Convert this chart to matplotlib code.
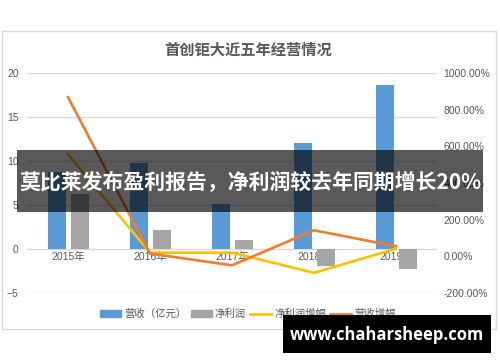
import matplotlib
matplotlib.use("Agg")
import matplotlib.pyplot as plt
from matplotlib.patches import Rectangle
from matplotlib.lines import Line2D
from matplotlib.patches import Patch
import numpy as np

plt.rcParams['font.family'] = ['Liberation Sans', 'Noto Sans CJK SC', 'DejaVu Sans']

years = ["2015年", "2016年", "2017年", "2018年", "2019年"]
revenue = [8.8, 9.8, 5.1, 12.1, 18.6]          # 营收（亿元）
net_profit = [6.3, 2.2, 1.0, -1.9, -2.3]       # 净利润
profit_growth = [557, 20, 20, -90, 42]         # 净利润增幅 (%)
revenue_growth = [868, 15, -49, 142, 55]       # 营收增幅 (%)
left_ticks = [-5, 0, 5, 10, 15, 20]
right_ticks = [-200, 0, 200, 400, 600, 800, 1000]

BLUE = "#5B9BD5"
GRAY = "#A5A5A5"
YELLOW = "#FFC000"
ORANGE = "#ED7D31"
TXT = "#595959"

fig = plt.figure(figsize=(5.0, 3.62), dpi=100)

# chart frame
fig.patches.append(Rectangle((2 / 500, 1 - 329 / 362), 494 / 500, 298 / 362,
                             transform=fig.transFigure, facecolor="none",
                             edgecolor="#d9d9d9", lw=1.0, zorder=-1))

ax = fig.add_axes([27 / 500, 1 - 293 / 362, 410 / 500, 220 / 362])
ax.set_facecolor("none")
x = np.arange(len(years))
w = 0.22
ax.bar(x - 0.135, revenue, w, color=BLUE, zorder=2)
ax.bar(x + 0.145, net_profit, w, color=GRAY, zorder=2)
ax.set_xlim(-0.5, 4.5)
ax.set_ylim(-5, 20)
ax.set_yticks(left_ticks)
ax.yaxis.grid(True, color="#d9d9d9", lw=1.0, zorder=0)
ax.set_axisbelow(True)
for s in ax.spines.values():
    s.set_visible(False)
ax.tick_params(axis="y", length=0, labelsize=7.5, labelcolor=TXT, pad=6)
ax.set_xticks([])
for xi, yl in zip(x, years):
    ax.text(xi, -0.85, yl, ha="center", va="center", fontsize=7.5, color=TXT, zorder=1)

ax2 = ax.twinx()
ax2.set_ylim(-200, 1000)
ax2.set_yticks(right_ticks)
ax2.set_yticklabels([f"{v:.2f}%" for v in right_ticks])
ax2.tick_params(axis="y", length=0, labelsize=7.5, labelcolor=TXT, pad=4.5)
for s in ax2.spines.values():
    s.set_visible(False)
ax2.plot(x, profit_growth, color=YELLOW, lw=1.9, zorder=3)
ax2.plot(x, revenue_growth, color=ORANGE, lw=1.9, zorder=3)

fig.text(248 / 500, 1 - 50 / 362, "首创钜大近五年经营情况", ha="center", va="center",
         fontsize=11, color=TXT, fontweight="bold")

handles = [Patch(color=BLUE), Patch(color=GRAY),
           Line2D([], [], color=YELLOW, lw=1.9), Line2D([], [], color=ORANGE, lw=1.9)]
labels = ["营收（亿元）", "净利润", "净利润增幅", "营收增幅"]
fig.legend(handles, labels, loc="center", bbox_to_anchor=(248 / 500, 1 - 314 / 362),
           ncol=4, frameon=False, fontsize=7.5, labelcolor=TXT, handlelength=2.0,
           handleheight=0.6, columnspacing=0.4, handletextpad=0.3)

# headline banner
fig.patches.append(Rectangle((17 / 500, 1 - 212 / 362), 466 / 500, 62 / 362,
                             transform=fig.transFigure, facecolor="black",
                             alpha=0.65, edgecolor="none", zorder=10))
fig.text(250 / 500, 1 - 182 / 362, "莫比莱发布盈利报告，净利润较去年同期增长20%",
         ha="center", va="center", fontsize=15, color="white", fontweight="bold",
         family=["Noto Sans CJK SC", "DejaVu Sans"], zorder=11)

# site badge
fig.patches.append(Rectangle((283 / 500, 1 - 353 / 362), 208 / 500, 38 / 362,
                             transform=fig.transFigure, facecolor="black",
                             edgecolor="none", zorder=10))
fig.text(387 / 500, 1 - 335 / 362, "www.chaharsheep.com", ha="center", va="center",
         fontsize=12, color="white", fontweight="bold",
         family=["Open Sans", "DejaVu Sans"], zorder=11)

fig.savefig("out.png", dpi=100)
